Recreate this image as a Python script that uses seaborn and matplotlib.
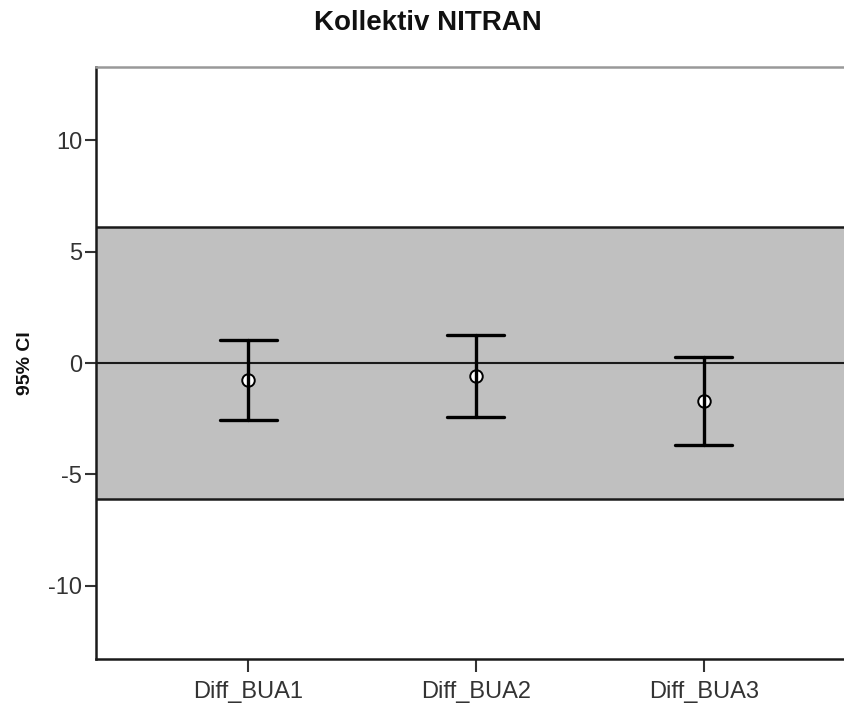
import matplotlib
matplotlib.use("Agg")
import matplotlib.pyplot as plt
import seaborn as sns
import pandas as pd

# Per-variable 95% CI: lower bound, mean, upper bound
categories = ["Diff_BUA1", "Diff_BUA2", "Diff_BUA3"]
ci_lower = [-2.54, -2.42, -3.68]
means = [-0.78, -0.57, -1.71]
ci_upper = [1.05, 1.26, 0.27]

# Limits of agreement shown as the shaded band
band_low = -6.1
band_high = 6.1

yticks = [-10, -5, 0, 5, 10]

sns.set_theme(style="white")
plt.rcParams["font.family"] = ["Liberation Sans", "DejaVu Sans"]

rows = []
for cat, lo, m, hi in zip(categories, ci_lower, means, ci_upper):
    for v in (lo, m, hi):
        rows.append({"var": cat, "value": v})
df = pd.DataFrame(rows)

fig = plt.figure(figsize=(8.45, 7.07), dpi=100)
ax = fig.add_axes([96 / 845, 1 - 659 / 707, 1 - 96 / 845, (659 - 67) / 707])

ax.axhspan(band_low, band_high, facecolor="#c0c0c0", edgecolor="none", zorder=0)
ax.axhline(band_high, color="#1a1a1a", lw=1.8, zorder=1)
ax.axhline(band_low, color="#1a1a1a", lw=1.8, zorder=1)
ax.axhline(0, color="#1a1a1a", lw=1.5, zorder=1)

# Median of (lower, mean, upper) is the mean; full range spans the CI
sns.pointplot(
    data=df, x="var", y="value", order=categories,
    estimator="median", errorbar=("pi", 100),
    color="black", linestyle="none", marker="o", markersize=9,
    markerfacecolor="white", markeredgecolor="black", markeredgewidth=1.4,
    capsize=0.25, err_kws={"linewidth": 2.4, "zorder": 4},
    ax=ax, zorder=3,
)

ax.set_xlim(-0.668, 2.62)
ax.set_ylim(-13.3, 13.3)
ax.set_yticks(yticks)
ax.set_yticklabels([str(t) for t in yticks])
ax.set_xlabel("")
ax.set_ylabel("95% CI", fontsize=14, fontweight="bold", color="#111111")
ax.yaxis.set_label_coords(-0.083, 0.5)
fig.text(428 / 845, 1 - 23 / 707, "Kollektiv NITRAN", fontsize=20, fontweight="bold",
         color="#111111", ha="center", va="center")

for side in ("left", "bottom"):
    ax.spines[side].set_color("#1a1a1a")
    ax.spines[side].set_linewidth(1.8)
ax.spines["top"].set_color("#999999")
ax.spines["top"].set_linewidth(1.8)
ax.spines["right"].set_visible(False)

ax.tick_params(axis="y", which="major", direction="out", length=8, width=1.5,
               color="#333333", labelsize=17, labelcolor="#333333", pad=2, left=True)
ax.tick_params(axis="x", which="major", direction="out", length=9, width=1.5,
               color="#333333", labelsize=17, labelcolor="#333333", pad=7, bottom=True)

fig.savefig("out.png", dpi=100)
